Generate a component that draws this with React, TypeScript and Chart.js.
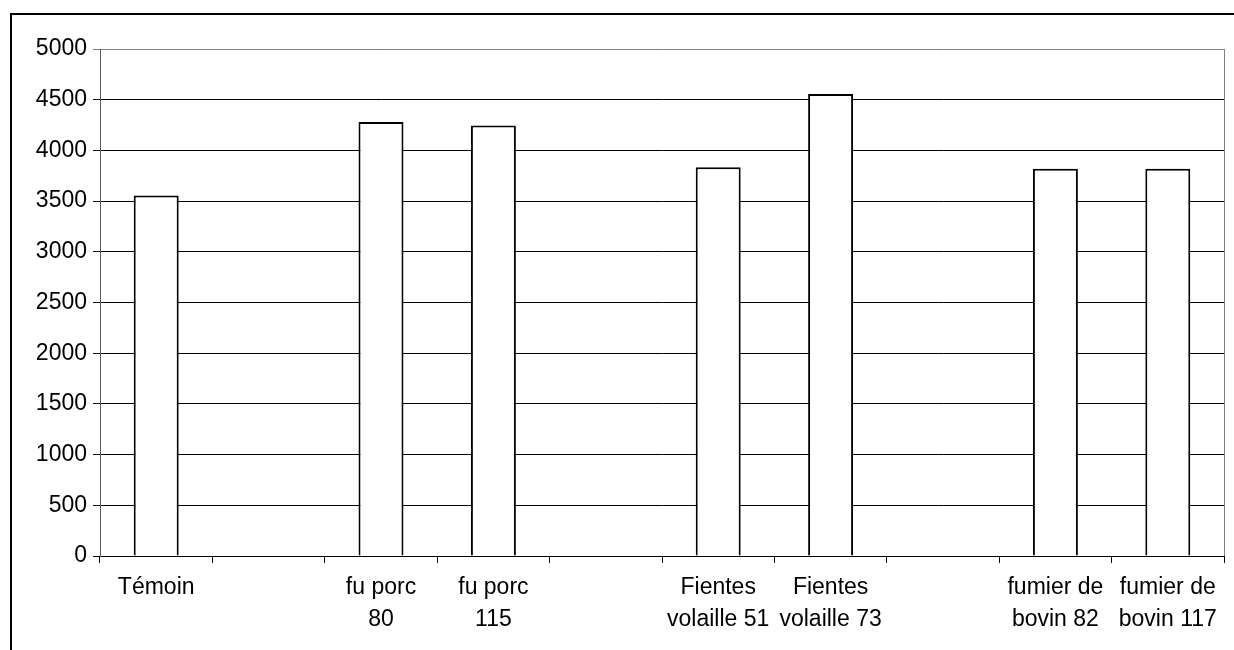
import React, { useEffect, useRef } from "react";
import { Chart, registerables } from "chart.js";

Chart.register(...registerables);

const categories: (string | string[])[] = [
  ["Témoin"],
  "",
  ["fu porc", "80"],
  ["fu porc", "115"],
  "",
  ["Fientes", "volaille 51"],
  ["Fientes", "volaille 73"],
  "",
  ["fumier de", "bovin 82"],
  ["fumier de", "bovin 117"],
];

const values: (number | null)[] = [3556, null, 4280, 4246, null, 3835, 4555, null, 3820, 3820];

const yMin = 0;
const yMax = 5000;
const yStep = 500;

const FONT = "'Liberation Sans', Arial, sans-serif";

const borderPlugin = {
  id: "plotBorder",
  afterDraw(chart: any) {
    const { ctx, chartArea } = chart;
    ctx.save();
    ctx.strokeStyle = "#808080";
    ctx.lineWidth = 1;
    ctx.beginPath();
    ctx.moveTo(Math.round(chartArea.right) + 0.5, chartArea.top);
    ctx.lineTo(Math.round(chartArea.right) + 0.5, chartArea.bottom);
    ctx.stroke();
    ctx.restore();
  },
};

export default function App() {
  const ref = useRef<HTMLCanvasElement>(null);

  useEffect(() => {
    document.body.style.margin = "0";
    const chart = new Chart(ref.current!, {
      type: "bar",
      data: {
        labels: categories,
        datasets: [
          {
            data: values,
            backgroundColor: "#ffffff",
            borderColor: "#000000",
            borderWidth: 2,
            barPercentage: 0.8,
            categoryPercentage: 0.5,
          },
        ],
      },
      options: {
        responsive: false,
        animation: false,
        layout: { padding: { top: 49, right: 10, left: 0, bottom: 0 } },
        plugins: { legend: { display: false }, tooltip: { enabled: false } },
        scales: {
          x: {
            grid: {
              offset: true,
              drawOnChartArea: false,
              drawTicks: true,
              tickLength: 7,
              color: "#000",
            },
            border: { color: "#000", width: 1 },
            ticks: {
              font: { family: FONT, size: 23, lineHeight: 1.38 },
              color: "#000",
              padding: 9,
              maxRotation: 0,
              autoSkip: false,
            },
            afterFit: (s: any) => {
              s.height = 94;
            },
          },
          y: {
            min: yMin,
            max: yMax,
            grid: {
              color: (c: any) => (c.tick && c.tick.value === yMax ? "#808080" : "#000"),
              tickLength: 7,
            },
            border: { color: "#606060", width: 1 },
            ticks: {
              stepSize: yStep,
              font: { family: FONT, size: 23 },
              color: "#000",
              padding: 6,
              callback: (v: any) => String(v),
            },
            afterFit: (s: any) => {
              s.width = 100;
            },
          },
        },
      },
      plugins: [borderPlugin],
    });
    return () => chart.destroy();
  }, []);

  return (
    <div style={{ position: "relative", width: 1234, height: 650, overflow: "hidden", background: "#fff" }}>
      <div
        style={{
          position: "absolute",
          left: 10,
          top: 13,
          width: 1400,
          height: 800,
          borderLeft: "2px solid #000",
          borderTop: "2px solid #000",
        }}
      />
      <canvas
        ref={ref}
        width={1234}
        height={650}
        style={{ position: "absolute", left: 0, top: 0, width: 1234, height: 650 }}
      />
    </div>
  );
}
